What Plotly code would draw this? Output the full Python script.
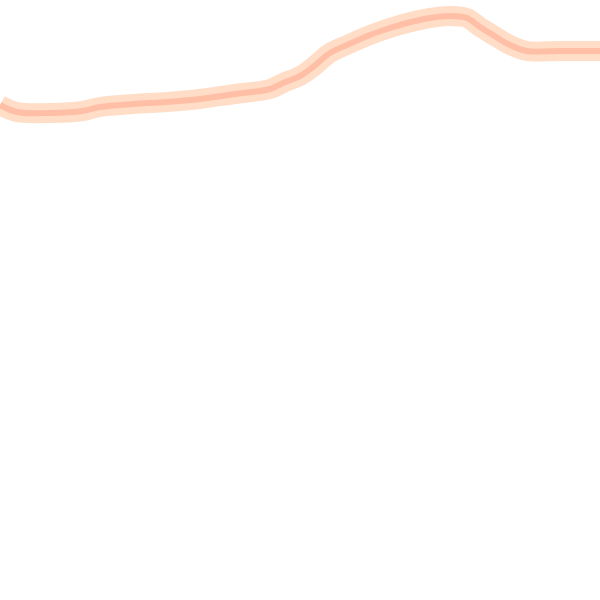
import plotly.graph_objects as go

x_vals = [0, 17, 50, 83, 100, 133, 167, 200, 235, 270, 283, 300, 313, 330, 347, 370, 390, 407, 430, 450, 467, 480, 493, 510, 527, 560, 600]
y_vals = [495, 488, 487, 489, 493, 496, 498, 501, 506, 511, 517, 524, 533, 547, 555, 565, 572, 577, 582, 584, 582, 573, 565, 555, 549, 549, 549]

fig = go.Figure()
fig.add_trace(go.Scatter(x=x_vals, y=y_vals, mode="lines",
                         line=dict(color="#FFDDC6", width=20, shape="spline"),
                         hoverinfo="skip", showlegend=False))
fig.add_trace(go.Scatter(x=x_vals, y=y_vals, mode="lines",
                         line=dict(color="#FFBFA6", width=6, shape="spline"),
                         hoverinfo="skip", showlegend=False))
fig.update_layout(width=600, height=600, margin=dict(l=0, r=0, t=0, b=0),
                  paper_bgcolor="white", plot_bgcolor="white",
                  xaxis=dict(visible=False, range=[0, 600]),
                  yaxis=dict(visible=False, range=[0, 600]))
fig.write_html("out.html", config={"displayModeBar": False},
               post_script="document.body.style.margin='0';")
